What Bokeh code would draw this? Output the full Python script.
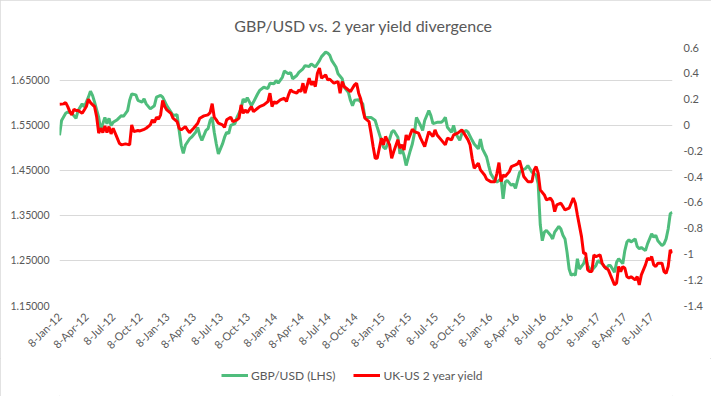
import math
import pandas as pd
from bokeh.plotting import figure
from bokeh.layouts import column
from bokeh.models import (Range1d, LinearAxis, FixedTicker, NumeralTickFormatter,
                          Legend, LegendItem)
from bokeh.embed import file_html
from bokeh.resources import INLINE

TITLE = "GBP/USD vs. 2 year yield  divergence"
START = pd.Timestamp("2012-01-08")

# weeks since 8-Jan-2012 and GBP/USD level (left axis)
gbp_week = [
    0, 1, 3, 4, 6, 8, 9, 11, 12, 14,
    15, 16, 17, 19, 20, 21, 22, 23, 24, 25,
    26, 28, 30, 31, 33, 34, 35, 37, 38, 40,
    41, 42, 44, 46, 47, 49, 50, 52, 54, 55,
    57, 58, 59, 60, 61, 63, 64, 66, 67, 68,
    69, 71, 72, 73, 74, 75, 76, 77, 79, 80,
    81, 82, 83, 85, 86, 88, 89, 90, 91, 93,
    94, 96, 97, 99, 101, 102, 104, 105, 106, 108,
    109, 110, 111, 112, 113, 115, 116, 118, 119, 121,
    122, 124, 126, 127, 129, 130, 131, 132, 134, 135,
    137, 138, 140, 141, 142, 143, 145, 147, 148, 151,
    153, 154, 156, 157, 158, 160, 161, 162, 164, 165,
    166, 167, 168, 170, 171, 172, 173, 175, 176, 177,
    179, 180, 181, 183, 185, 186, 187, 188, 190, 191,
    192, 194, 195, 197, 198, 200, 201, 203, 204, 205,
    207, 208, 209, 211, 212, 214, 215, 216, 217, 219,
    220, 221, 223, 224, 226, 227, 229, 231, 232, 233,
    234, 235, 236, 238, 239, 240, 242, 243, 244, 245,
    246, 247, 248, 249, 250, 251, 252, 254, 255, 256,
    257, 258, 260, 261, 262, 263, 265, 266, 267, 269,
    270, 271, 273, 274, 275, 276, 277, 279, 280, 281,
    282, 284, 285, 286, 287, 288, 289, 290, 292, 293,
    294, 295, 296, 297,
]
gbp_usd = [
    1.528, 1.561, 1.577, 1.580, 1.577, 1.566, 1.583, 1.598, 1.591, 1.613,
    1.626, 1.617, 1.602, 1.568, 1.539, 1.554, 1.568, 1.554, 1.566, 1.550,
    1.557, 1.563, 1.572, 1.570, 1.583, 1.606, 1.620, 1.618, 1.606, 1.602,
    1.609, 1.598, 1.587, 1.594, 1.613, 1.617, 1.613, 1.594, 1.580, 1.572,
    1.574, 1.539, 1.506, 1.488, 1.506, 1.520, 1.524, 1.535, 1.546, 1.528,
    1.517, 1.539, 1.543, 1.561, 1.568, 1.535, 1.509, 1.487, 1.509, 1.524,
    1.535, 1.532, 1.550, 1.554, 1.568, 1.587, 1.609, 1.602, 1.612, 1.594,
    1.602, 1.620, 1.628, 1.635, 1.632, 1.644, 1.643, 1.650, 1.644, 1.657,
    1.671, 1.668, 1.665, 1.668, 1.654, 1.661, 1.668, 1.676, 1.683, 1.681,
    1.687, 1.680, 1.694, 1.703, 1.713, 1.711, 1.706, 1.694, 1.680, 1.665,
    1.654, 1.635, 1.624, 1.606, 1.594, 1.606, 1.607, 1.598, 1.568, 1.568,
    1.561, 1.546, 1.517, 1.502, 1.498, 1.520, 1.535, 1.539, 1.524, 1.487,
    1.498, 1.483, 1.461, 1.494, 1.509, 1.532, 1.568, 1.550, 1.539, 1.561,
    1.583, 1.572, 1.554, 1.557, 1.557, 1.561, 1.568, 1.546, 1.535, 1.550,
    1.532, 1.517, 1.532, 1.539, 1.535, 1.517, 1.509, 1.498, 1.520, 1.498,
    1.480, 1.461, 1.443, 1.428, 1.424, 1.432, 1.387, 1.424, 1.428, 1.417,
    1.420, 1.410, 1.446, 1.450, 1.455, 1.461, 1.446, 1.440, 1.420, 1.330,
    1.294, 1.313, 1.317, 1.306, 1.298, 1.313, 1.326, 1.320, 1.306, 1.298,
    1.268, 1.231, 1.217, 1.220, 1.217, 1.254, 1.231, 1.243, 1.257, 1.239,
    1.231, 1.228, 1.239, 1.250, 1.246, 1.243, 1.231, 1.239, 1.239, 1.224,
    1.246, 1.254, 1.243, 1.272, 1.291, 1.296, 1.291, 1.298, 1.281, 1.276,
    1.279, 1.272, 1.287, 1.298, 1.309, 1.302, 1.306, 1.294, 1.283, 1.287,
    1.298, 1.320, 1.354, 1.357,
]

# weeks since 8-Jan-2012 and UK-US 2 year yield spread (right axis)
spread_week = [
    0, 2, 3, 4, 5, 6, 7, 8, 9, 11,
    12, 13, 14, 15, 17, 18, 19, 20, 21, 22,
    23, 24, 25, 26, 28, 29, 30, 32, 34, 35,
    36, 38, 39, 41, 42, 44, 45, 46, 47, 48,
    49, 50, 51, 52, 54, 55, 57, 58, 59, 61,
    62, 63, 65, 67, 68, 70, 72, 73, 74, 75,
    76, 77, 79, 80, 81, 83, 84, 86, 87, 88,
    89, 90, 91, 93, 94, 96, 97, 99, 101, 102,
    103, 104, 105, 107, 109, 110, 111, 112, 113, 115,
    116, 117, 118, 119, 121, 122, 123, 124, 125, 126,
    127, 129, 130, 131, 133, 135, 136, 137, 138, 139,
    141, 142, 143, 144, 145, 146, 147, 148, 150, 151,
    152, 153, 154, 156, 157, 158, 160, 161, 162, 164,
    165, 166, 167, 168, 169, 171, 172, 174, 175, 177,
    179, 181, 182, 183, 185, 187, 188, 190, 191, 193,
    195, 196, 198, 199, 200, 201, 203, 204, 206, 207,
    209, 211, 212, 213, 214, 215, 216, 218, 219, 221,
    222, 223, 224, 225, 227, 229, 230, 231, 232, 233,
    235, 236, 238, 239, 240, 241, 243, 244, 245, 247,
    248, 249, 250, 251, 253, 254, 255, 256, 257, 258,
    259, 260, 262, 263, 264, 265, 266, 267, 269, 270,
    271, 272, 273, 274, 275, 276, 277, 279, 280, 281,
    282, 284, 285, 286, 287, 288, 289, 290, 292, 293,
    294, 295, 296, 297,
]
uk_us_2y = [
    0.160, 0.163, 0.173, 0.142, 0.103, 0.078, 0.122, 0.111, 0.111, 0.090,
    0.116, 0.142, 0.199, 0.173, 0.142, 0.064, -0.064, -0.026, -0.060, -0.008,
    -0.060, -0.013, -0.070, -0.026, -0.103, -0.142, -0.155, -0.147, -0.155, 0.000,
    -0.052, -0.044, -0.047, -0.034, -0.026, 0.000, 0.039, 0.018, 0.060, 0.044,
    0.078, 0.189, 0.142, 0.116, 0.090, 0.052, 0.026, -0.026, -0.039, -0.013,
    -0.039, -0.060, -0.026, 0.013, 0.052, 0.070, 0.078, 0.095, 0.165, 0.060,
    0.039, 0.013, 0.000, -0.018, 0.039, 0.060, 0.026, 0.039, 0.052, 0.155,
    0.090, 0.116, 0.095, 0.142, 0.103, 0.129, 0.142, 0.155, 0.181, 0.246,
    0.142, 0.181, 0.168, 0.194, 0.207, 0.181, 0.233, 0.271, 0.258, 0.246,
    0.271, 0.258, 0.323, 0.246, 0.362, 0.310, 0.336, 0.297, 0.400, 0.440,
    0.362, 0.388, 0.349, 0.354, 0.323, 0.336, 0.246, 0.336, 0.297, 0.284,
    0.258, 0.284, 0.310, 0.323, 0.246, 0.200, 0.120, 0.052, 0.026, -0.064,
    -0.168, -0.258, -0.258, -0.103, -0.155, -0.090, -0.155, -0.258, -0.207, -0.116,
    -0.181, -0.155, -0.194, -0.078, -0.116, -0.034, -0.052, -0.064, -0.103, -0.168,
    -0.052, -0.090, -0.039, -0.078, -0.116, -0.155, -0.103, -0.116, -0.078, -0.064,
    -0.039, -0.064, -0.116, -0.155, -0.258, -0.336, -0.297, -0.349, -0.388, -0.421,
    -0.440, -0.440, -0.375, -0.292, -0.440, -0.388, -0.400, -0.362, -0.323, -0.310,
    -0.302, -0.277, -0.336, -0.400, -0.440, -0.440, -0.349, -0.323, -0.375, -0.504,
    -0.543, -0.581, -0.568, -0.594, -0.672, -0.620, -0.607, -0.633, -0.659, -0.646,
    -0.607, -0.568, -0.607, -0.698, -0.866, -0.995, -0.995, -1.124, -1.137, -1.137,
    -1.008, -1.021, -1.008, -1.072, -1.098, -1.111, -1.124, -1.163, -1.240, -1.227,
    -1.098, -1.137, -1.098, -1.111, -1.176, -1.188, -1.176, -1.202, -1.176, -1.240,
    -1.163, -1.085, -1.033, -1.047, -1.021, -1.085, -1.098, -1.072, -1.072, -1.137,
    -1.150, -1.098, -0.969, -0.995,
]

x_tick_labels = [
    "8-Jan-12", "8-Apr-12", "8-Jul-12", "8-Oct-12",
    "8-Jan-13", "8-Apr-13", "8-Jul-13", "8-Oct-13",
    "8-Jan-14", "8-Apr-14", "8-Jul-14", "8-Oct-14",
    "8-Jan-15", "8-Apr-15", "8-Jul-15", "8-Oct-15",
    "8-Jan-16", "8-Apr-16", "8-Jul-16", "8-Oct-16",
    "8-Jan-17", "8-Apr-17", "8-Jul-17",
]
left_ticks = [1.15, 1.25, 1.35, 1.45, 1.55, 1.65]
right_ticks = [-1.4, -1.2, -1.0, -0.8, -0.6, -0.4, -0.2, 0.0, 0.2, 0.4, 0.6]
left_range = (1.15, 1.7233)
right_range = (-1.4, 0.6)
last_week = 297.1

GREEN = "#4fbd7c"
RED = "#ff0000"
TXT = "#595959"
FONT = "Lato"


def to_ms(ts):
    return int(ts.value // 10**6)


gbp_x = [START + pd.Timedelta(days=7 * w) for w in gbp_week]
spr_x = [START + pd.Timedelta(days=7 * w) for w in spread_week]
tick_dates = [pd.to_datetime(s, format="%d-%b-%y") for s in x_tick_labels]
tick_ms = [to_ms(d) for d in tick_dates]

p = figure(width=711, height=358, x_axis_type="datetime",
           x_range=Range1d(to_ms(START), to_ms(START + pd.Timedelta(days=7 * last_week))),
           y_range=Range1d(*left_range),
           output_backend="svg", toolbar_location=None,
           min_border_left=59, min_border_right=39, min_border_top=47, min_border_bottom=53,
           title=TITLE)
p.outline_line_color = None
p.background_fill_color = "white"
p.border_fill_color = "white"

p.title.align = "center"
p.title.offset = -7
p.title.standoff = 26
p.title.text_font = FONT
p.title.text_font_size = "16px"
p.title.text_font_style = "normal"
p.title.text_color = TXT

p.extra_y_ranges = {"spread": Range1d(*right_range)}

# x axis
xa = p.xaxis[0]
xa.ticker = FixedTicker(ticks=tick_ms)
xa.major_label_overrides = {ms: lab for ms, lab in zip(tick_ms, x_tick_labels)}
xa.major_label_orientation = math.pi / 4
xa.major_label_standoff = 9

# left axis
ya = p.yaxis[0]
ya.ticker = FixedTicker(ticks=left_ticks)
ya.formatter = NumeralTickFormatter(format="0.00000")
ya.major_label_standoff = 10

# right axis
ra = LinearAxis(y_range_name="spread", ticker=FixedTicker(ticks=right_ticks),
                formatter=NumeralTickFormatter(format="0.[0]"))
ra.major_label_standoff = 11
p.add_layout(ra, "right")

for ax in (xa, ya, ra):
    ax.axis_line_color = None
    ax.major_tick_line_color = None
    ax.minor_tick_line_color = None
    ax.major_tick_out = 0
    ax.major_tick_in = 0
    ax.minor_tick_out = 0
    ax.minor_tick_in = 0
    ax.major_label_text_color = TXT
    ax.major_label_text_font = FONT
    ax.major_label_text_font_size = "11px"
ya.major_label_text_font_size = "10.5px"

p.xgrid.visible = False
p.ygrid.ticker = FixedTicker(ticks=left_ticks)
p.ygrid.grid_line_color = "#d9d9d9"
p.ygrid.grid_line_width = 1

p.line(gbp_x, gbp_usd, line_color=GREEN, line_width=3)
p.line(spr_x, uk_us_2y, line_color=RED, line_width=3, y_range_name="spread")

# legend strip below the chart: the series are drawn with the same style but fall
# outside this strip's ranges, so only the legend keys show
lg = figure(width=711, height=38, output_backend="svg", toolbar_location=None,
            x_range=Range1d(0, 1), y_range=Range1d(0, 1), min_border=0)
lg.axis.visible = False
lg.grid.visible = False
lg.outline_line_color = None
lg.border_fill_color = "white"
kg = lg.line(gbp_x, gbp_usd, line_color=GREEN, line_width=3)
kr = lg.line(spr_x, uk_us_2y, line_color=RED, line_width=3)
legend = Legend(items=[LegendItem(label="GBP/USD (LHS)", renderers=[kg]),
                       LegendItem(label="UK-US 2 year yield", renderers=[kr])],
                orientation="horizontal", location=(162, 11),
                border_line_color=None, background_fill_alpha=0,
                label_text_font=FONT, label_text_font_size="12px", label_text_color=TXT,
                glyph_width=27, label_standoff=3, spacing=18, padding=2, margin=0)
lg.add_layout(legend, "center")

layout = column(p, lg, spacing=0,
                styles={"outline": "1px solid #d9d9d9", "outline-offset": "-1px"})
open("out.html", "w").write(file_html(layout, INLINE))
